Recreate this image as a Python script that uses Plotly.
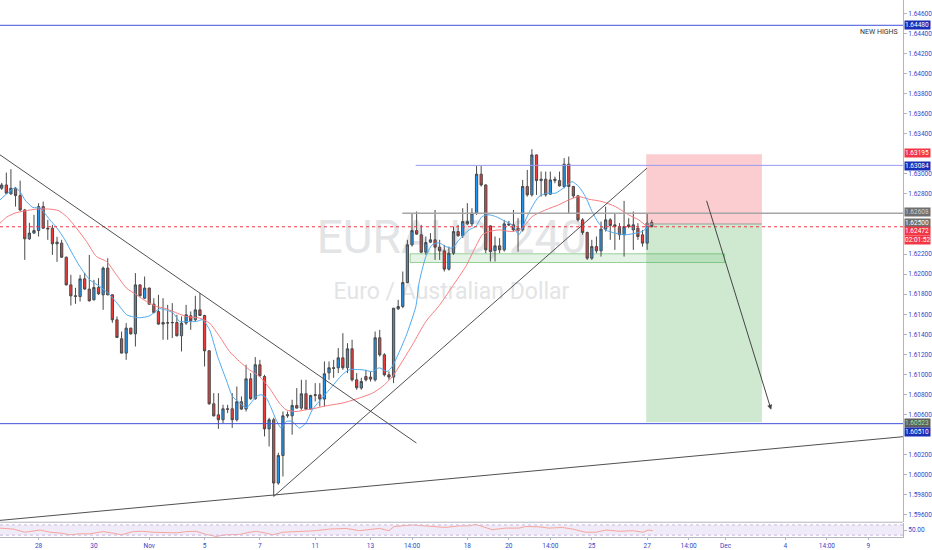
import plotly.graph_objects as go

# ---------------- DATA (EURAUD, 240) ----------------
opens = [1.62856, 1.62889, 1.62800, 1.62856, 1.62783, 1.62640, 1.62352, 1.62409, 1.62434, 1.62673,
         1.62458, 1.62458, 1.62302, 1.62309, 1.62169, 1.61893, 1.61784, 1.61777, 1.61953, 1.61851,
         1.61744, 1.61867, 1.61794, 1.62060, 1.61794, 1.61545, 1.61356, 1.61213, 1.61462, 1.61406,
         1.61893, 1.61761, 1.61861, 1.61701, 1.61627, 1.61502, 1.61512, 1.61515, 1.61518, 1.61386,
         1.61512, 1.61585, 1.61545, 1.61644, 1.61588, 1.61236, 1.60708, 1.60598, 1.60549, 1.60658,
         1.60658, 1.60549, 1.60728, 1.60655, 1.60957, 1.60758, 1.61097, 1.60980, 1.60458, 1.60549,
         1.59918, 1.60193, 1.60588, 1.60588, 1.60691, 1.60665, 1.60808, 1.60655, 1.60791, 1.60798,
         1.60755, 1.61017, 1.61067, 1.61067, 1.61166, 1.61067, 1.61256, 1.60947, 1.60865, 1.60980,
         1.60974, 1.60947, 1.61366, 1.61196, 1.60997, 1.60974, 1.61654, 1.61677, 1.61916, 1.62292,
         1.62434, 1.62392, 1.62219, 1.62319, 1.62342, 1.62269, 1.62232, 1.62050, 1.62209, 1.62424,
         1.62382, 1.62501, 1.62501, 1.62607, 1.62996, 1.62889, 1.62481, 1.62235, 1.62282, 1.62242,
         1.62501, 1.62491, 1.62458, 1.62441, 1.62873, 1.62790, 1.63188, 1.62932, 1.62946, 1.62797,
         1.62932, 1.62932, 1.62873, 1.63096, 1.62873, 1.62780, 1.62541, 1.62415, 1.62159, 1.62275,
         1.62232, 1.62448, 1.62541, 1.62491, 1.62474, 1.62392, 1.62491, 1.62441, 1.62458, 1.62392,
         1.62309, 1.62514]
highs = [1.62909, 1.63012, 1.63046, 1.62869, 1.62932, 1.62650, 1.62511, 1.62591, 1.62707, 1.62723,
         1.62541, 1.62491, 1.62372, 1.62342, 1.62175, 1.61993, 1.61864, 1.61993, 1.62010, 1.62192,
         1.61943, 1.61960, 1.62076, 1.62159, 1.61800, 1.61578, 1.61428, 1.61512, 1.61465, 1.62010,
         1.61900, 1.61976, 1.61865, 1.61761, 1.61794, 1.61761, 1.61694, 1.61711, 1.61595, 1.61578,
         1.61694, 1.61628, 1.61784, 1.61811, 1.61595, 1.61240, 1.60814, 1.60814, 1.60698, 1.60698,
         1.60814, 1.60880, 1.60781, 1.61097, 1.61014, 1.61173, 1.61146, 1.60997, 1.60569, 1.60569,
         1.60220, 1.60631, 1.60631, 1.60748, 1.60864, 1.60947, 1.60947, 1.60798, 1.60914, 1.60914,
         1.61130, 1.61130, 1.61146, 1.61263, 1.61412, 1.61312, 1.61346, 1.61014, 1.60967, 1.61047,
         1.61030, 1.61428, 1.61445, 1.61213, 1.61030, 1.61661, 1.61744, 1.62026, 1.62342, 1.62601,
         1.62624, 1.62491, 1.62375, 1.62409, 1.62640, 1.62342, 1.62292, 1.62275, 1.62474, 1.62491,
         1.62657, 1.62707, 1.62657, 1.63079, 1.63079, 1.62895, 1.62485, 1.62375, 1.62359, 1.62541,
         1.62531, 1.62640, 1.62558, 1.62939, 1.63039, 1.63245, 1.63192, 1.63022, 1.63022, 1.63022,
         1.62972, 1.63022, 1.63156, 1.63172, 1.62880, 1.62790, 1.62558, 1.62424, 1.62342, 1.62375,
         1.62524, 1.62673, 1.62558, 1.62607, 1.62508, 1.62730, 1.62558, 1.62624, 1.62508, 1.62441,
         1.62607, 1.62541]
lows = [1.62840, 1.62800, 1.62790, 1.62673, 1.62630, 1.62142, 1.62342, 1.62402, 1.62375, 1.62451,
        1.62342, 1.62192, 1.62123, 1.62162, 1.61888, 1.61687, 1.61704, 1.61727, 1.61844, 1.61727,
        1.61739, 1.61794, 1.61644, 1.61789, 1.61515, 1.61363, 1.61211, 1.61146, 1.61396, 1.61279,
        1.61777, 1.61751, 1.61694, 1.61611, 1.61495, 1.61346, 1.61346, 1.61363, 1.61379, 1.61229,
        1.61495, 1.61445, 1.61528, 1.61585, 1.61080, 1.60698, 1.60581, 1.60458, 1.60516, 1.60615,
        1.60468, 1.60532, 1.60648, 1.60631, 1.60748, 1.60748, 1.60980, 1.60383, 1.60283, 1.59785,
        1.59901, 1.59984, 1.60569, 1.60400, 1.60661, 1.60648, 1.60648, 1.60648, 1.60731, 1.60681,
        1.60681, 1.60947, 1.60967, 1.61014, 1.61047, 1.61014, 1.60930, 1.60848, 1.60848, 1.60930,
        1.60930, 1.60930, 1.61179, 1.60980, 1.60947, 1.60914, 1.61644, 1.61661, 1.61910, 1.62275,
        1.62392, 1.62209, 1.62192, 1.62309, 1.62142, 1.62142, 1.62026, 1.62036, 1.62192, 1.62375,
        1.62359, 1.62491, 1.62474, 1.62591, 1.62873, 1.62209, 1.62126, 1.62126, 1.62209, 1.62225,
        1.62481, 1.62424, 1.62225, 1.62424, 1.62773, 1.62773, 1.62790, 1.62773, 1.62773, 1.62790,
        1.62906, 1.62873, 1.62856, 1.62607, 1.62757, 1.62524, 1.62392, 1.62142, 1.62142, 1.62209,
        1.62175, 1.62424, 1.62342, 1.62242, 1.62342, 1.62175, 1.62458, 1.62242, 1.62342, 1.62275,
        1.62242, 1.62468]
closes = [1.62889, 1.62807, 1.62856, 1.62783, 1.62640, 1.62352, 1.62409, 1.62434, 1.62673, 1.62458,
          1.62451, 1.62302, 1.62319, 1.62169, 1.61893, 1.61784, 1.61779, 1.61953, 1.61851, 1.61734,
          1.61867, 1.61804, 1.62060, 1.61794, 1.61545, 1.61369, 1.61213, 1.61462, 1.61406, 1.61893,
          1.61784, 1.61861, 1.61701, 1.61617, 1.61502, 1.61518, 1.61515, 1.61518, 1.61386, 1.61512,
          1.61595, 1.61535, 1.61644, 1.61588, 1.61236, 1.60708, 1.60588, 1.60549, 1.60658, 1.60653,
          1.60549, 1.60728, 1.60655, 1.60957, 1.60758, 1.61097, 1.60987, 1.60458, 1.60549, 1.59918,
          1.60193, 1.60588, 1.60598, 1.60691, 1.60665, 1.60808, 1.60655, 1.60791, 1.60798, 1.60755,
          1.61007, 1.61067, 1.61062, 1.61166, 1.61067, 1.61256, 1.60947, 1.60868, 1.60930, 1.60947,
          1.60954, 1.61366, 1.61196, 1.60997, 1.60974, 1.61661, 1.61677, 1.61916, 1.62292, 1.62434,
          1.62399, 1.62219, 1.62315, 1.62342, 1.62269, 1.62232, 1.62050, 1.62209, 1.62424, 1.62382,
          1.62524, 1.62524, 1.62607, 1.62996, 1.62889, 1.62242, 1.62225, 1.62282, 1.62242, 1.62501,
          1.62491, 1.62441, 1.62434, 1.62873, 1.62790, 1.63188, 1.62932, 1.62946, 1.62790, 1.62939,
          1.62946, 1.62880, 1.63096, 1.62873, 1.62780, 1.62541, 1.62415, 1.62159, 1.62275, 1.62232,
          1.62448, 1.62541, 1.62484, 1.62474, 1.62392, 1.62474, 1.62474, 1.62491, 1.62375, 1.62309,
          1.62508, 1.62472]
bar_index = list(range(len(opens)))

# fast moving average (blue), read at points: bar position, price
fast_ma_pos = [-0.37, 2.88, 3.96, 5.04, 6.77, 8.29, 10.45, 11.97, 13.70, 15.22, 16.95, 19.11, 21.28,
               23.44, 24.96, 27.12, 28.42, 29.94, 32.10, 34.26, 37.12, 38.59, 39.68, 42.21, 43.57,
               45.09, 46.82, 48.70, 50.06, 51.58, 53.03, 54.11, 55.19, 56.28, 57.36, 58.44, 59.52,
               60.61, 61.69, 63.05, 64.57, 66.02, 67.38, 69.55, 71.06, 73.87, 75.39, 78.20, 80.37,
               81.88, 83.61, 84.70, 87.66, 89.83, 90.54, 91.99, 93.36, 94.87, 96.32, 97.68, 99.20,
               101.36, 102.81, 104.18, 105.69, 107.14, 109.31, 110.74, 112.19, 113.64, 115.06,
               116.52, 118.31, 120.13, 122.29, 123.72, 125.17, 126.62, 128.05, 129.50, 130.95,
               133.12, 135.28, 137.45, 138.87, 140.32, 141.0]
fast_ma_val = [1.62740, 1.62860, 1.62823, 1.62740, 1.62664, 1.62660, 1.62541, 1.62461, 1.62342,
               1.62213, 1.62076, 1.61943, 1.61877, 1.61794, 1.61714, 1.61595, 1.61575, 1.61565,
               1.61585, 1.61655, 1.61615, 1.61528, 1.61528, 1.61528, 1.61545, 1.61445, 1.61180,
               1.60947, 1.60781, 1.60718, 1.60668, 1.60718, 1.60781, 1.60798, 1.60768, 1.60668,
               1.60549, 1.60466, 1.60532, 1.60532, 1.60466, 1.60519, 1.60648, 1.60768, 1.60848,
               1.60997, 1.61047, 1.61047, 1.61030, 1.61067, 1.61030, 1.61080, 1.61379, 1.61678,
               1.61914, 1.62173, 1.62292, 1.62312, 1.62275, 1.62259, 1.62342, 1.62441, 1.62474,
               1.62574, 1.62591, 1.62574, 1.62524, 1.62491, 1.62392, 1.62541, 1.62673, 1.62773,
               1.62807, 1.62807, 1.62873, 1.62922, 1.62873, 1.62773, 1.62624, 1.62508, 1.62441,
               1.62408, 1.62392, 1.62408, 1.62424, 1.62474, 1.62500]

# slow moving average (red)
slow_ma_pos = [-0.37, 1.08, 2.88, 5.04, 7.58, 10.45, 12.25, 14.07, 16.23, 18.40, 20.56, 22.73, 24.89,
               27.06, 29.22, 31.39, 33.55, 35.35, 37.14, 40.04, 42.92, 45.09, 47.25, 49.42, 51.58,
               53.74, 55.91, 58.07, 60.24, 61.69, 63.85, 66.02, 68.18, 70.35, 73.94, 77.55, 80.43,
               82.60, 84.76, 89.09, 91.99, 94.87, 97.75, 100.65, 102.81, 104.24, 105.69, 107.84,
               110.74, 112.90, 115.06, 117.97, 120.84, 123.01, 125.17, 127.34, 130.22, 133.12,
               136.00, 138.16, 139.61, 140.69]
slow_ma_val = [1.62508, 1.62568, 1.62608, 1.62631, 1.62648, 1.62648, 1.62634, 1.62574, 1.62458,
               1.62325, 1.62175, 1.62126, 1.61993, 1.61861, 1.61794, 1.61727, 1.61678, 1.61661,
               1.61628, 1.61578, 1.61562, 1.61512, 1.61379, 1.61229, 1.61130, 1.61047, 1.60980,
               1.60865, 1.60715, 1.60648, 1.60631, 1.60648, 1.60665, 1.60688, 1.60715, 1.60765,
               1.60815, 1.60881, 1.60980, 1.61296, 1.61528, 1.61685, 1.61877, 1.62076, 1.62275,
               1.62392, 1.62424, 1.62441, 1.62424, 1.62458, 1.62574, 1.62640, 1.62691, 1.62740,
               1.62773, 1.62747, 1.62723, 1.62673, 1.62591, 1.62541, 1.62491, 1.62481]

# RSI pane
rsi_pos = [-0.4, 2.5, 5.0, 7.6, 8.3, 10.5, 13.0, 14.8, 16.9, 19.1, 20.6, 22.0, 24.2, 26.0, 28.5,
           30.6, 32.8, 35.7, 37.9, 40.0, 42.2, 44.4, 46.5, 48.7, 51.6, 53.4, 55.2, 57.4, 58.8,
           61.0, 64.6, 68.2, 71.1, 74.7, 77.6, 80.4, 81.9, 84.0, 85.1, 89.1, 92.7, 96.3, 99.2,
           101.4, 102.8, 106.4, 109.3, 112.2, 113.6, 116.5, 118.7, 121.6, 123.8, 126.7, 128.9,
           131.1, 134.0, 136.9, 139.1, 140.2, 141.2]
rsi_val = [57.5, 53.7, 41.3, 47.5, 50.0, 41.3, 37.5, 31.3, 35.0, 35.0, 38.8, 43.8, 37.5, 31.3, 43.8,
           45.0, 41.3, 38.8, 38.8, 43.8, 45.0, 32.5, 25.0, 31.3, 32.5, 40.0, 45.0, 37.5, 31.3,
           41.3, 45.0, 47.5, 53.7, 56.2, 47.5, 52.5, 56.2, 47.5, 63.7, 70.0, 66.2, 60.0, 66.2,
           66.2, 72.4, 51.2, 57.5, 57.5, 63.7, 62.5, 57.5, 60.0, 53.7, 41.3, 41.3, 50.0, 45.0,
           47.5, 41.3, 50.0, 47.5]

date_tick_pos = [8, 20, 32, 44, 56, 68, 80, 89, 101, 110, 119, 128, 140, 149, 157, 170, 179, 188]
date_tick_text = ["28", "30", "Nov", "5", "7", "11", "13", "14:00", "18", "20", "14:00", "25",
                  "27", "14:00", "Dec", "4", "14:00", "9"]
# price-scale labels that are visible (the others are hidden behind the level labels)
price_tick_vals = [1.596, 1.598, 1.600, 1.602, 1.606, 1.608, 1.610, 1.612, 1.614, 1.616,
                   1.618, 1.620, 1.622, 1.628, 1.630, 1.634, 1.636, 1.638,
                   1.640, 1.642, 1.644, 1.646]
price_tick_text = ["1.59600", "1.59800", "1.60000", "1.60200", "1.60600", "1.60800", "1.61000",
                   "1.61200", "1.61400", "1.61600", "1.61800", "1.62000", "1.62200", "1.62800",
                   "1.63000", "1.63400", "1.63600", "1.63800", "1.64000", "1.64200", "1.64400",
                   "1.64600"]

# drawing levels
new_high_level = 1.64480
support_level = 1.60510
resistance_level = 1.63084
range_top_level = 1.62608
last_price = 1.62472
stop_level = 1.63195
entry_level = 1.62500
target_level = 1.60523
zone_low, zone_high = 1.62116, 1.62203
zone_start, zone_end = 88.6, 156.8
position_start, position_end = 139.8, 164.9
resistance_start = 89.8
range_top_start = 86.9
down_trend = [(-0.37, 1.63189), (89.96, 1.60317)]
up_trend = [(59.0, 1.59785), (139.96, 1.63056)]
long_trend = [(-0.37, 1.59546), (195.5, 1.60380)]
arrow_path = [(152.8, 1.62746), (166.9, 1.60648)]

X_RANGE = [-0.37, 195.5]
Y_RANGE = [1.59533, 1.64732]
RSI_RANGE = [22.7, 77.3]

AXIS_TXT = "#3346c6"
FONT = "Roboto, Liberation Sans, sans-serif"

fig = go.Figure()

fig.add_trace(go.Candlestick(
    x=bar_index, open=opens, high=highs, low=lows, close=closes,
    increasing=dict(fillcolor="#2196f3", line=dict(color="#4a4a4a", width=1)),
    decreasing=dict(fillcolor="#ef3a3a", line=dict(color="#4a4a4a", width=1)),
    whiskerwidth=0, showlegend=False, hoverinfo="skip", xaxis="x", yaxis="y"))

fig.add_trace(go.Scatter(x=slow_ma_pos, y=slow_ma_val, mode="lines",
                         line=dict(color="#f77c80", width=1, shape="spline", smoothing=0.6),
                         showlegend=False, hoverinfo="skip", xaxis="x", yaxis="y"))
fig.add_trace(go.Scatter(x=fast_ma_pos, y=fast_ma_val, mode="lines",
                         line=dict(color="#4fa9f0", width=1, shape="spline", smoothing=0.6),
                         showlegend=False, hoverinfo="skip", xaxis="x", yaxis="y"))

fig.add_trace(go.Scatter(x=rsi_pos, y=rsi_val, mode="lines",
                         line=dict(color="#f7a59c", width=1),
                         showlegend=False, hoverinfo="skip", xaxis="x2", yaxis="y2"))

shapes = []
# watermark
shapes.append(dict(type="rect", xref="paper", yref="paper", x0=0.2, x1=0.8, y0=0.50, y1=0.63,
                   line=dict(width=0), fillcolor="rgba(0,0,0,0)", layer="below",
                   label=dict(text="EURAUD, 240", font=dict(size=46, color="#e3e4e6", family=FONT),
                              textposition="middle center")))
shapes.append(dict(type="rect", xref="paper", yref="paper", x0=0.2, x1=0.8, y0=0.42, y1=0.50,
                   line=dict(width=0), fillcolor="rgba(0,0,0,0)", layer="below",
                   label=dict(text="Euro / Australian Dollar", font=dict(size=23, color="#e3e4e6", family=FONT),
                              textposition="middle center")))
# position tool
shapes.append(dict(type="rect", xref="x", yref="y", x0=position_start, x1=position_end,
                   y0=entry_level, y1=stop_level, line=dict(width=0),
                   fillcolor="rgba(242,54,69,0.25)", layer="below"))
shapes.append(dict(type="rect", xref="x", yref="y", x0=position_start, x1=position_end,
                   y0=target_level, y1=entry_level, line=dict(width=0),
                   fillcolor="rgba(76,175,80,0.27)", layer="below"))
# demand zone
shapes.append(dict(type="rect", xref="x", yref="y", x0=zone_start, x1=zone_end,
                   y0=zone_low, y1=zone_high, line=dict(width=1, color="rgba(76,175,80,0.55)"),
                   fillcolor="rgba(76,175,80,0.15)", layer="below"))
# horizontal levels
shapes.append(dict(type="line", xref="paper", yref="y", x0=0, x1=1, y0=new_high_level, y1=new_high_level,
                   line=dict(color="#3f51d8", width=1)))
shapes.append(dict(type="line", xref="paper", yref="y", x0=0, x1=1, y0=support_level, y1=support_level,
                   line=dict(color="#3f51d8", width=1)))
shapes.append(dict(type="line", xref="x", yref="y", x0=resistance_start, x1=X_RANGE[1],
                   y0=resistance_level, y1=resistance_level, line=dict(color="#9a9af2", width=1)))
shapes.append(dict(type="line", xref="x", yref="y", x0=range_top_start, x1=X_RANGE[1],
                   y0=range_top_level, y1=range_top_level, line=dict(color="#a6a6a6", width=1.5)))
shapes.append(dict(type="line", xref="paper", yref="y", x0=0, x1=1, y0=last_price, y1=last_price,
                   line=dict(color="#f23645", width=1, dash="dot")))
shapes.append(dict(type="line", xref="x", yref="y", x0=position_start, x1=position_end,
                   y0=entry_level, y1=entry_level, line=dict(color="#9e9e9e", width=1)))
# trend lines
for seg in (down_trend, up_trend, long_trend):
    shapes.append(dict(type="line", xref="x", yref="y", x0=seg[0][0], y0=seg[0][1],
                       x1=seg[1][0], y1=seg[1][1], line=dict(color="#505050", width=1)))
# pane frame
shapes.append(dict(type="line", xref="paper", yref="paper", x0=0, x1=1, y0=0.0275, y1=0.0275,
                   line=dict(color="#b2b5be", width=1)))
# RSI band
shapes.append(dict(type="rect", xref="paper", yref="y2", x0=0, x1=1, y0=30, y1=70,
                   line=dict(width=0), fillcolor="rgba(126,87,194,0.12)", layer="below"))
for lvl in (30, 70):
    shapes.append(dict(type="line", xref="paper", yref="y2", x0=0, x1=1, y0=lvl, y1=lvl,
                       line=dict(color="#c9b8e0", width=1, dash="dot")))

annotations = []
annotations.append(dict(x=arrow_path[1][0], y=arrow_path[1][1], ax=arrow_path[0][0], ay=arrow_path[0][1],
                        xref="x", yref="y", axref="x", ayref="y", text="", showarrow=True,
                        arrowhead=2, arrowsize=1, arrowwidth=1, arrowcolor="#454545"))
annotations.append(dict(x=0.997, y=new_high_level, xref="paper", yref="y", text="NEW HIGHS",
                        showarrow=False, xanchor="right", yanchor="top", yshift=-1,
                        font=dict(size=7, color="#333333", family=FONT)))

def axis_label(val, text, bg, fg="white", yshift=0):
    annotations.append(dict(x=1.0, y=val, xref="paper", yref="y", text=text, showarrow=False,
                            xanchor="left", yanchor="middle", xshift=1, yshift=yshift, bgcolor=bg,
                            font=dict(size=6.5, color=fg, family=FONT), borderpad=0, width=25,
                            height=8, align="left", valign="middle"))

axis_label(new_high_level, "%.5f" % new_high_level, "#1a2fb8")
axis_label(stop_level, "%.5f" % stop_level, "#f23645", yshift=1)
axis_label(resistance_level, "%.5f" % resistance_level, "#1a2fb8", yshift=-1)
axis_label(range_top_level, "%.5f" % range_top_level, "#6f6f6f", fg="#d0d0d0", yshift=1)
axis_label(entry_level, "%.5f" % entry_level, "#6f6f6f", yshift=1)
axis_label(last_price, "%.5f" % last_price, "#f23645", yshift=-4)
axis_label(last_price, "02:01:52", "#f23645", yshift=-13)
axis_label(target_level, "%.5f" % target_level, "#5e5e5e", fg="#9fe3a4", yshift=-1)
axis_label(support_level, "%.5f" % support_level, "#1a2fb8", yshift=-8)

fig.update_layout(
    width=932, height=550,
    margin=dict(l=0, r=27, t=0, b=13),
    paper_bgcolor="white", plot_bgcolor="white",
    showlegend=False,
    font=dict(family=FONT, size=7, color=AXIS_TXT),
    xaxis=dict(domain=[0, 1], anchor="y", range=X_RANGE, showgrid=False, zeroline=False,
               showticklabels=False, rangeslider=dict(visible=False), fixedrange=True),
    yaxis=dict(domain=[0.0285, 1], anchor="x", side="right", range=Y_RANGE, showgrid=False,
               zeroline=False, tickvals=price_tick_vals, ticktext=price_tick_text,
               ticks="outside", ticklen=3, tickcolor="#b2b5be", showline=True,
               linecolor="#b2b5be", linewidth=1, tickfont=dict(size=6.5, color=AXIS_TXT)),
    xaxis2=dict(domain=[0, 1], anchor="y2", matches="x", range=X_RANGE, showgrid=False,
                zeroline=False, tickvals=date_tick_pos, ticktext=date_tick_text, ticks="outside",
                ticklen=2, tickcolor="#b2b5be", showline=True, linecolor="#b2b5be",
                tickfont=dict(size=6.5, color=AXIS_TXT)),
    yaxis2=dict(domain=[0, 0.026], anchor="x2", side="right", range=RSI_RANGE, showgrid=False,
                zeroline=False, tickvals=[50], ticktext=["50.00"], ticks="outside", ticklen=3,
                tickcolor="#b2b5be", showline=True, linecolor="#b2b5be",
                tickfont=dict(size=6.5, color=AXIS_TXT)),
    shapes=shapes, annotations=annotations,
)

fig.write_html("out.html", config={"displayModeBar": False, "staticPlot": True},
               post_script="document.body.style.margin='0';document.body.style.overflow='hidden';")
